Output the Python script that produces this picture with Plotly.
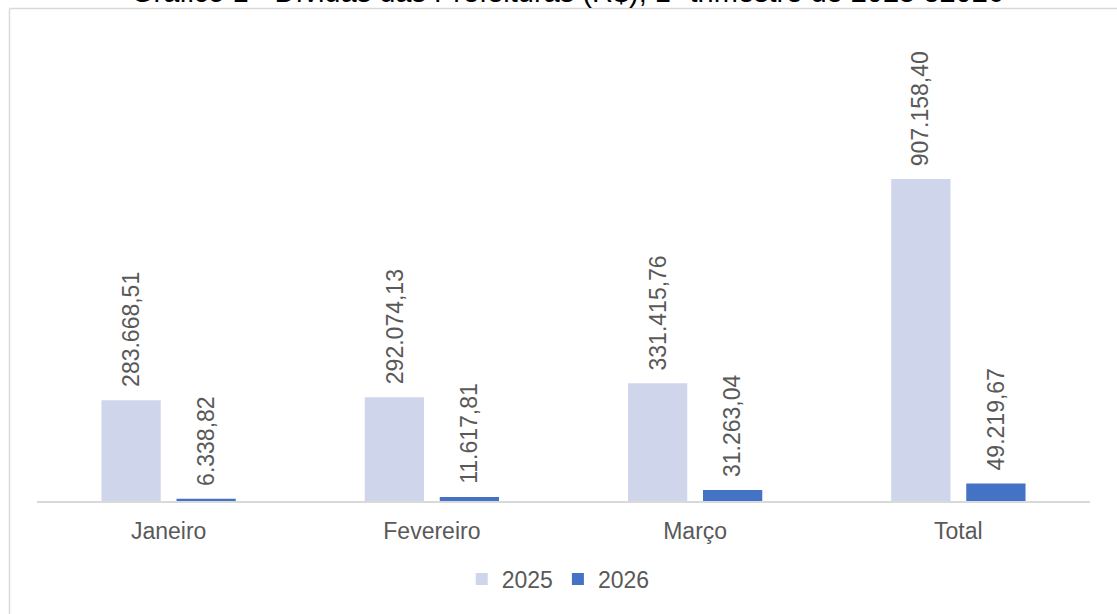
import plotly.graph_objects as go

categories = ["Janeiro", "Fevereiro", "Março", "Total"]
values_2025 = [283668.51, 292074.13, 331415.76, 907158.40]
values_2026 = [6338.82, 11617.81, 31263.04, 49219.67]
series_names = ["2025", "2026"]
title_text = "Gráfico 1 - Dívidas das Prefeituras (R$), 1º trimestre de 2025 e2026"

C2025 = "#cfd5ea"
C2026 = "#4472c4"
TXT = "#595959"
FONT = "Liberation Sans, Arial, sans-serif"
FS = 23


def fmt_br(v):
    s = f"{v:,.2f}"
    return s.replace(",", "X").replace(".", ",").replace("X", ".")


W, H = 1117, 614
L, R, T, B = 37, 27, 75, 113
PW, PH = W - L - R, H - T - B


def px_x(p):
    return (p - L) / PW


def px_y(p):
    return (H - B - p) / PH


fig = go.Figure()
fig.add_trace(go.Bar(name=series_names[0], x=categories, y=values_2025,
                     marker=dict(color=C2025, line=dict(width=0))))
fig.add_trace(go.Bar(name=series_names[1], x=categories, y=values_2026,
                     marker=dict(color=C2026, line=dict(width=0))))

annotations = []
for i, c in enumerate(categories):
    for vals, off in ((values_2025, -0.1425), (values_2026, 0.1425)):
        annotations.append(dict(
            x=i + off, y=vals[i], xref="x", yref="y",
            text=fmt_br(vals[i]), showarrow=False, textangle=-90,
            xanchor="center", yanchor="bottom", yshift=11,
            font=dict(family=FONT, size=FS, color=TXT)))

# title, mostly above the top edge as in the reference
annotations.append(dict(
    x=px_x(567), y=px_y(10), xref="paper", yref="paper",
    text=title_text, showarrow=False, xanchor="center", yanchor="bottom",
    font=dict(family=FONT, size=29, color="#000000")))

shapes = [
    dict(type="line", xref="paper", yref="paper",
         x0=px_x(9.5), x1=px_x(1125), y0=px_y(8.5), y1=px_y(8.5),
         line=dict(color="#d9d9d9", width=1.5)),
    dict(type="line", xref="paper", yref="paper",
         x0=px_x(9.5), x1=px_x(9.5), y0=px_y(8.5), y1=px_y(630),
         line=dict(color="#d9d9d9", width=1.5)),
]

fig.update_layout(
    width=W, height=H,
    margin=dict(l=L, r=R, t=T, b=B, pad=0),
    paper_bgcolor="white", plot_bgcolor="white",
    barmode="group", bargap=0.43, bargroupgap=0.21,
    showlegend=True,
    legend=dict(orientation="h", x=0.495, xanchor="center",
                y=px_y(579), yanchor="middle",
                font=dict(family=FONT, size=FS, color=TXT),
                itemwidth=30, traceorder="normal"),
    annotations=annotations,
    shapes=shapes,
    font=dict(family=FONT, color=TXT),
)
fig.update_xaxes(showline=True, linecolor="#d9d9d9", linewidth=1.5,
                 showgrid=False, zeroline=False, ticks="",
                 tickfont=dict(family=FONT, size=FS, color=TXT),
                 ticklabelstandoff=9)
fig.update_yaxes(range=[0, 1200000], visible=False, showgrid=False,
                 zeroline=False)

fig.write_html("out.html",
               config={"displayModeBar": False},
               post_script="document.body.style.margin='0';"
                           "document.body.style.overflow='hidden';")
